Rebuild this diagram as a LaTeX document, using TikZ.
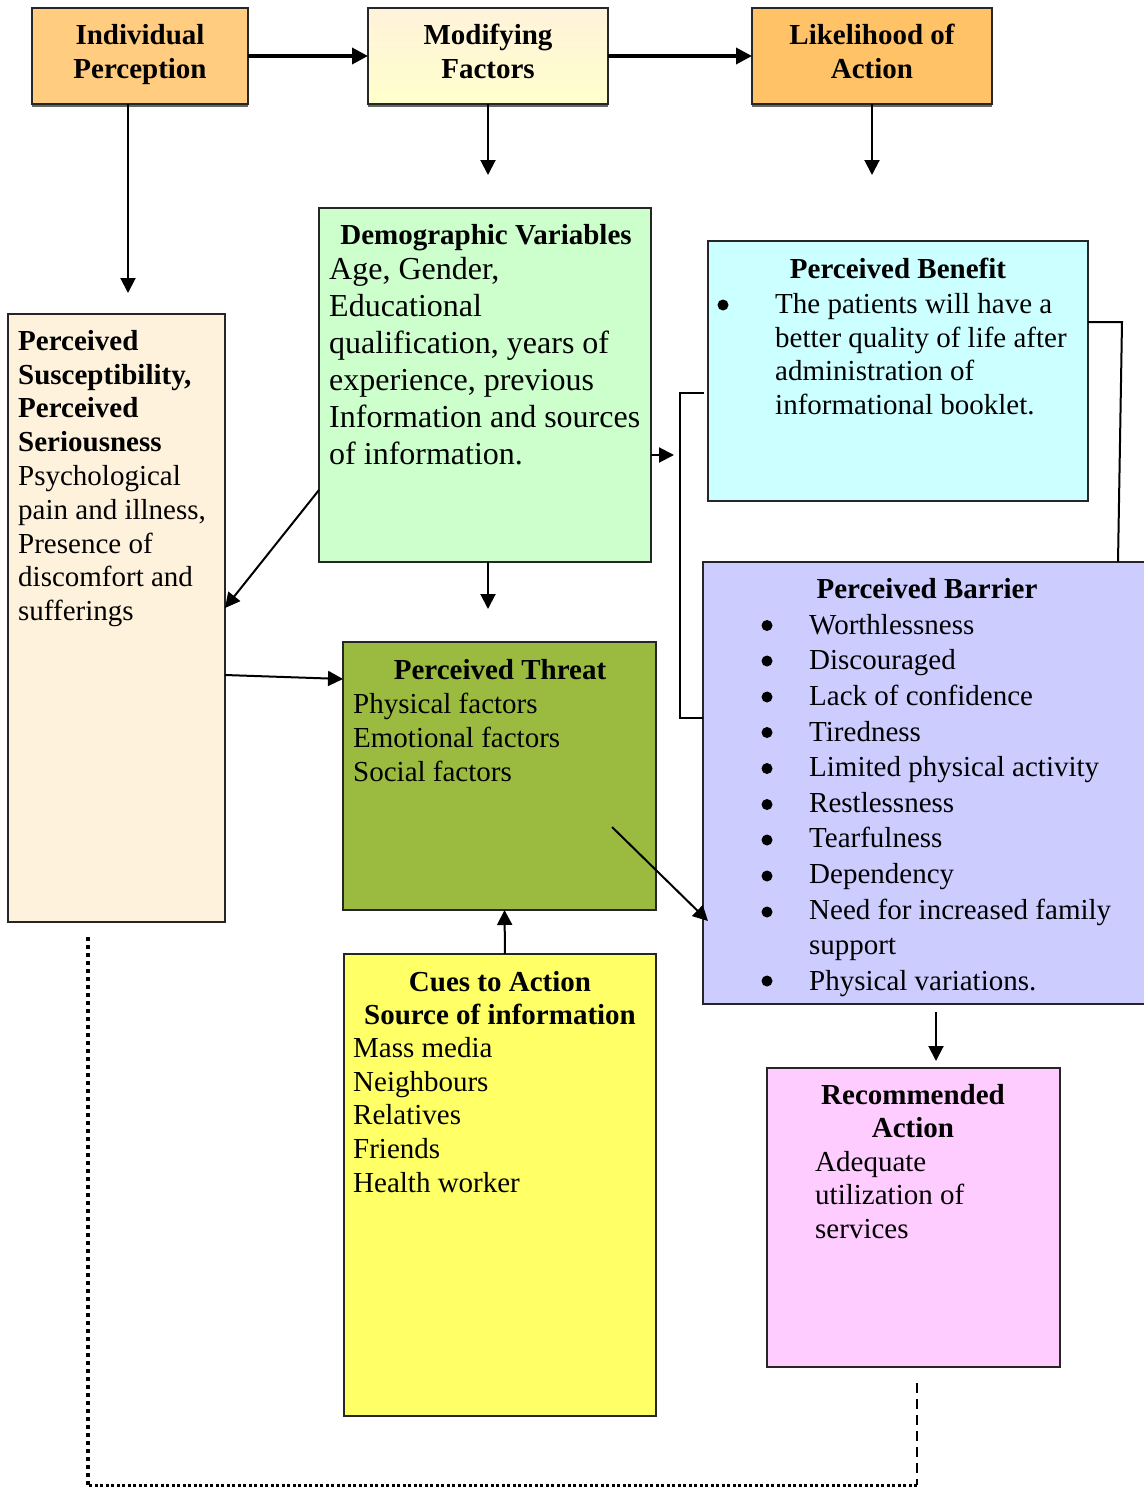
\documentclass[tikz,border=0pt]{standalone}
\usepackage{fontspec}
\setmainfont{Liberation Serif}
\usetikzlibrary{arrows.meta}
\definecolor{ipc}{HTML}{FFCC80}
\definecolor{lac}{HTML}{FFC266}
\definecolor{mftop}{HTML}{FFF2DA}
\definecolor{mfbot}{HTML}{FFFFCC}
\definecolor{psc}{HTML}{FFF2DC}
\definecolor{dvc}{HTML}{CCFFCC}
\definecolor{pbc}{HTML}{CCFFFF}
\definecolor{ptc}{HTML}{9BBB40}
\definecolor{barc}{HTML}{CCCCFF}
\definecolor{cuc}{HTML}{FFFF66}
\definecolor{rac}{HTML}{FFCCFF}
\begin{document}
\begin{tikzpicture}[x=1pt,y=-1pt,
  box/.style={draw=black!85, line width=1.8pt, anchor=north west, inner sep=0pt, outer sep=0pt},
  toptxt/.style={inner sep=0pt, anchor=north, align=center, font=\fontsize{29}{34}\selectfont\bfseries},
  body/.style={inner sep=0pt, anchor=north west, align=left, font=\fontsize{29}{33.8}\selectfont},
  ttl/.style={inner sep=0pt, anchor=center, align=center, font=\fontsize{29}{33.5}\selectfont\bfseries},
  arr/.style={line width=2pt, -{Triangle[length=15pt,width=15pt]}},
  thickarr/.style={line width=3.5pt, -{Triangle[length=16pt,width=16pt]}},
  conn/.style={line width=2pt},
  shadow/.style={draw=black!60, line width=1.5pt},
  dot/.style={fill=black}
]
\useasboundingbox (0,0) rectangle (1143,1488);
\fill[white] (0,0) rectangle (1143,1488);

% top boxes
\node[box, fill=ipc, minimum width=216pt, minimum height=96pt] (ip) at (32,8) {};
\node[box, top color=mftop, bottom color=mfbot, minimum width=240pt, minimum height=96pt] (mf) at (368,8) {};
\node[box, fill=lac, minimum width=240pt, minimum height=96pt] (la) at (752,8) {};
\draw[shadow] ([yshift=-2pt]ip.south west) -- ([yshift=-2pt]ip.south east);
\draw[shadow] ([yshift=-2pt]mf.south west) -- ([yshift=-2pt]mf.south east);
\draw[shadow] ([yshift=-2pt]la.south west) -- ([yshift=-2pt]la.south east);
\node[toptxt] (iptxt) at (140,24) {Individual\\Perception};
\node[toptxt] (mftxt) at (488,24) {Modifying\\Factors};
\node[toptxt] (latxt) at (872,24) {Likelihood of\\Action};

% main boxes
\node[box, fill=psc, minimum width=217pt, minimum height=608pt] (ps) at (8,314) {};
\node[box, fill=dvc, minimum width=332pt, minimum height=354pt] (dv) at (319,208) {};
\node[box, fill=pbc, minimum width=380pt, minimum height=260pt] (pb) at (708,241) {};
\node[box, fill=ptc, minimum width=313pt, minimum height=268pt] (pt) at (343,642) {};
\node[box, fill=barc, minimum width=448pt, minimum height=442pt] (bar) at (703,562) {};
\node[box, fill=cuc, minimum width=312pt, minimum height=462pt] (cu) at (344,954) {};
\node[box, fill=rac, minimum width=293pt, minimum height=299pt] (ra) at (767,1068) {};

% texts
\node[body] (pstxt) at (18,330) {\textbf{Perceived}\\\textbf{Susceptibility,}\\\textbf{Perceived}\\\textbf{Seriousness}\\Psychological\\pain and illness,\\Presence of\\discomfort and\\sufferings};

\node[ttl] (dvttl) at (486,238) {Demographic Variables};
\node[body, font=\fontsize{32}{37}\selectfont] (dvtxt) at (329,257) {Age, Gender,\\Educational\\qualification, years of\\experience, previous\\Information and sources\\of information.};

\node[ttl] (pbttl) at (898,268) {Perceived Benefit};
\node[body, font=\fontsize{29}{33.7}\selectfont] (pbtxt) at (775,293) {The patients will have a\\better quality of life after\\administration of\\informational booklet.};
\fill[dot] (723,305) circle (5.5pt);

\node[ttl] (ptttl) at (500,670) {Perceived Threat};
\node[body, font=\fontsize{29}{33.7}\selectfont] (pttxt) at (353,693) {Physical factors\\Emotional factors\\Social factors};

\node[ttl] (barttl) at (927,589) {Perceived Barrier};
\node[body, font=\fontsize{29}{35.6}\selectfont] (bartxt) at (809,614) {Worthlessness\\Discouraged\\Lack of confidence\\Tiredness\\Limited physical activity\\Restlessness\\Tearfulness\\Dependency\\Need for increased family\\support\\Physical variations.};
\foreach \yy in {625.5,661,697,732.5,768.5,804.5,840,876,912,981}
  \fill[dot] (767,\yy) circle (5.5pt);

\node[ttl] (cuttl) at (500,998) {Cues to Action\\Source of information};
\node[body, font=\fontsize{29}{33.75}\selectfont] (cutxt) at (353,1037) {Mass media\\Neighbours\\Relatives\\Friends\\Health worker};

\node[ttl] (rattl) at (913,1111) {Recommended\\Action};
\node[body, font=\fontsize{29}{33.5}\selectfont] (ratxt) at (815,1151) {Adequate\\utilization of\\services};

% free-end coordinates
\coordinate (ipend) at (128,293);
\coordinate (mfend) at (488,175);
\coordinate (laend) at (872,175);
\coordinate (dvend) at (488,609);
\coordinate (brk) at (674,455);
\coordinate (bkt) at (680,393);
\coordinate (bkb) at (680,718);
\coordinate (pbr) at (1122,322);
\coordinate (ptin) at (612,827);
\coordinate (barend) at (936,1061);
\coordinate (barst) at (936,1012);
\coordinate (d1) at (917,1383);
\coordinate (d2) at (917,1485);
\coordinate (d3) at (88,1485);
\coordinate (d4) at (88,937);

% connectors
\draw[thickarr] (ip.east) -- (mf.west);
\draw[thickarr] (mf.east) -- (la.west);
\draw[arr] ([xshift=-12pt]ip.south) -- (ipend);
\draw[arr] (mf.south) -- (mfend);
\draw[arr] (la.south) -- (laend);
\draw[arr] ([yshift=-105pt]dv.west) -- ([yshift=10pt]ps.east);
\draw[arr] ([xshift=3pt]dv.south) -- (dvend);
\draw[arr] ([yshift=-70pt]dv.east) -- (brk);
\draw[conn] ([xshift=-4pt,yshift=-22pt]pb.west) -- (bkt) -- (bkb) -- ([yshift=65pt]bar.west);
\draw[conn] ([yshift=49pt]pb.east) -- (pbr) -- ([xshift=415pt]bar.north west);
\draw[arr] ([yshift=-57pt]ps.east) -- ([yshift=97pt]pt.west);
\draw[arr] (ptin) -- ([xshift=5pt,yshift=-138pt]bar.west);
\draw[arr] ([xshift=5pt]cu.north) -- ([xshift=5pt]pt.south);
\draw[arr] (barst) -- (barend);
\draw[line width=1.5pt, dash pattern=on 10pt off 6pt] (d1) -- (d2);
\draw[line width=3pt, dash pattern=on 3pt off 2.5pt] (d2) -- (d3);
\draw[line width=3.5pt, dash pattern=on 4pt off 4pt] (d3) -- (d4);
\end{tikzpicture}
\end{document}
